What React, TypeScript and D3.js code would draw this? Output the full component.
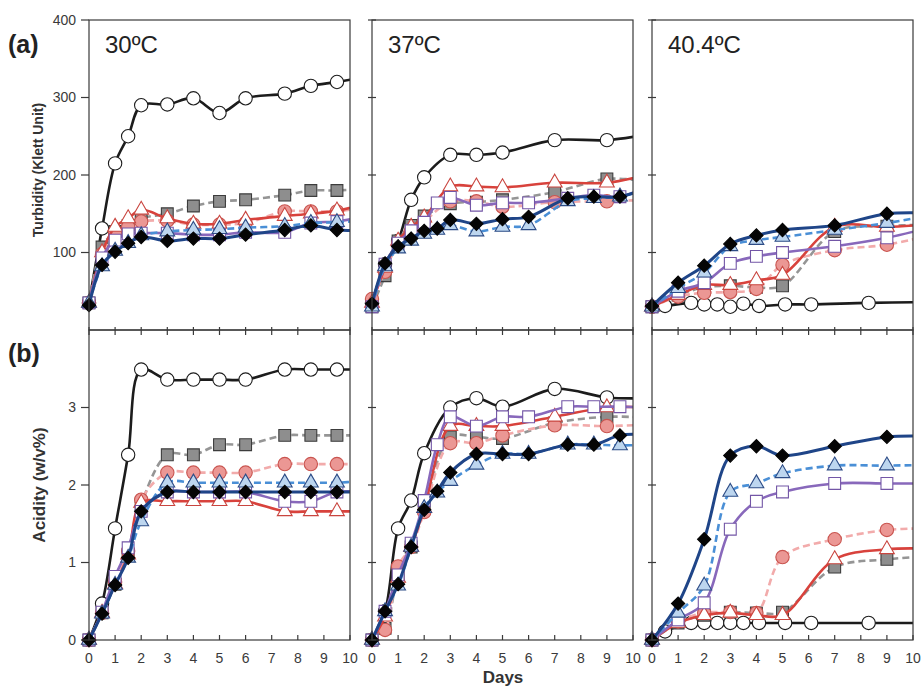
import React from "react";
import * as d3 from "d3";

// sampling days (last point sits just past the frame so lines run to the edge)
const days30 = [0, 0.5, 1, 1.5, 2, 3, 4, 5, 6, 7.5, 8.5, 9.5, 10.5];
const days37a = [0, 0.5, 1, 1.5, 2, 3, 4, 5, 7, 9, 10.5];
const days37b = [0, 0.5, 1, 1.5, 2, 2.5, 3, 4, 5, 6, 7.5, 8.5, 9.5, 10.5];
const days40 = [0, 1, 2, 3, 4, 5, 7, 9, 10.5];
const days40Ctrl = [0, 0.5, 1.5, 2, 2.5, 3, 3.5, 4.1, 5.1, 6.1, 8.3, 10.5];

// turbidity, 30C
const turb30Ctrl = [35, 131, 215, 250, 290, 291, 299, 280, 299, 305, 315, 320, 326];
const turb30Gray = [35, 107, 127, 135, 144, 150, 160, 166, 168, 174, 180, 180, 182];
const turb30Pink = [35, 98, 125, 133, 140, 141, 136, 136, 138, 153, 153, 153, 158];
const turb30Red = [35, 100, 133, 144, 155, 144, 137, 137, 142, 147, 150, 154, 162];
const turb30Purple = [35, 93, 116, 124, 125, 125, 123, 123, 126, 126, 138, 140, 146];
const turb30Blue = [35, 82, 102, 112, 122, 127, 129, 130, 132, 134, 138, 139, 141];
const turb30Navy = [32, 84, 101, 112, 120, 115, 118, 118, 123, 129, 135, 129, 129];

// turbidity, 37C
const turb37Ctrl = [35, 85, 115, 168, 197, 226, 226, 229, 245, 245, 252];
const turb37Gray = [30, 70, 115, 135, 147, 163, 165, 168, 178, 195, 192];
const turb37Pink = [40, 75, 112, 128, 140, 166, 166, 159, 165, 166, 168];
const turb37Red = [35, 80, 115, 133, 145, 185, 185, 184, 190, 190, 200];
const turb37Purple = [30, 85, 112, 128, 139, 164, 171, 161, 164, 164, 170, 174, 172, 185];
const turb37Blue = [30, 82, 105, 115, 124, 129, 135, 127, 133, 135, 166, 170, 172, 182];
const turb37Navy = [34, 86, 108, 118, 128, 131, 142, 137, 143, 146, 170, 172, 172, 183];

// turbidity, 40.4C
const turb40Ctrl = [30, 31, 35, 33, 33, 30, 34, 31, 33, 33, 35, 36];
const turb40Gray = [30, 45, 55, 57, 55, 57, 127, 134, 136];
const turb40Pink = [30, 43, 48, 49, 53, 84, 103, 110, 121];
const turb40Red = [30, 45, 58, 58, 64, 71, 133, 133, 136];
const turb40Purple = [30, 50, 61, 86, 95, 100, 108, 119, 131];
const turb40Blue = [30, 54, 74, 108, 116, 120, 129, 138, 147];
const turb40Navy = [31, 61, 83, 111, 122, 129, 135, 150, 151];

// acidity, 30C
const acid30Ctrl = [0, 0.47, 1.44, 2.39, 3.49, 3.36, 3.36, 3.36, 3.36, 3.49, 3.49, 3.49, 3.49];
const acid30Gray = [0, 0.35, 0.72, 1.1, 1.75, 2.39, 2.39, 2.52, 2.52, 2.64, 2.64, 2.64, 2.64];
const acid30Pink = [0, 0.35, 0.75, 1.15, 1.81, 2.16, 2.16, 2.16, 2.16, 2.27, 2.27, 2.27, 2.27];
const acid30Red = [0, 0.35, 0.72, 1.1, 1.77, 1.79, 1.79, 1.79, 1.79, 1.66, 1.66, 1.66, 1.66];
const acid30Purple = [0, 0.36, 0.82, 1.19, 1.66, 1.91, 1.91, 1.91, 1.91, 1.79, 1.79, 1.91, 1.91];
const acid30Blue = [0, 0.34, 0.71, 1.06, 1.53, 2.03, 2.03, 2.03, 2.03, 2.03, 2.03, 2.03, 2.05];
const acid30Navy = [0, 0.34, 0.71, 1.06, 1.66, 1.91, 1.91, 1.91, 1.91, 1.91, 1.91, 1.91, 1.91];

// acidity, 37C
const acid37Ctrl = [0, 0.37, 1.44, 1.8, 2.41, 3.0, 3.12, 3.01, 3.24, 3.13, 3.12];
const acid37Gray = [0, 0.15, 0.84, 1.2, 1.7, 2.62, 2.62, 2.6, 2.8, 2.88, 2.87];
const acid37Pink = [0, 0.13, 0.95, 1.2, 1.65, 2.54, 2.54, 2.64, 2.77, 2.76, 2.78];
const acid37Red = [0, 0.3, 0.8, 1.2, 1.7, 2.76, 2.76, 2.76, 2.88, 3.0, 3.0];
const acid37Purple = [0, 0.37, 0.84, 1.25, 1.8, 2.52, 2.88, 2.76, 2.88, 2.88, 3.01, 3.01, 3.01, 3.0];
const acid37Blue = [0, 0.37, 0.7, 1.2, 1.7, 1.9, 2.05, 2.26, 2.4, 2.4, 2.52, 2.52, 2.51, 2.52];
const acid37Navy = [0, 0.37, 0.72, 1.2, 1.68, 1.92, 2.16, 2.4, 2.4, 2.4, 2.52, 2.52, 2.64, 2.65];

// acidity, 40.4C
const acid40Ctrl = [0, 0.11, 0.22, 0.22, 0.22, 0.22, 0.22, 0.22, 0.22, 0.22, 0.22, 0.22];
const acid40Gray = [0, 0.22, 0.32, 0.36, 0.35, 0.36, 0.94, 1.04, 1.08];
const acid40Pink = [0, 0.24, 0.35, 0.36, 0.35, 1.07, 1.3, 1.42, 1.44];
const acid40Red = [0, 0.22, 0.32, 0.35, 0.32, 0.32, 1.04, 1.17, 1.18];
const acid40Purple = [0, 0.26, 0.48, 1.43, 1.79, 1.91, 2.02, 2.02, 2.02];
const acid40Blue = [0, 0.35, 0.7, 1.91, 2.02, 2.15, 2.25, 2.25, 2.26];
const acid40Navy = [0, 0.47, 1.3, 2.38, 2.5, 2.38, 2.5, 2.62, 2.63];

const temps = ["30ºC", "37ºC", "40.4ºC"];
const xTicks = [0, 1, 2, 3, 4, 5, 6, 7, 8, 9, 10];
const turbTicks = [100, 200, 300, 400];
const acidTicks = [0, 1, 2, 3];

type Style = { stroke: string; dash?: string; width: number; shape: string; fill: string; mstroke: string };
const styles: Record<string, Style> = {
  ctrl: { stroke: "#1c1c1c", width: 2.6, shape: "circle", fill: "#fff", mstroke: "#1c1c1c" },
  gray: { stroke: "#959595", dash: "7,4", width: 2.6, shape: "square", fill: "#8e8e8e", mstroke: "#3c3c3c" },
  pink: { stroke: "#f2abab", dash: "7,4", width: 2.6, shape: "circle", fill: "#eb9794", mstroke: "#c9544f" },
  red: { stroke: "#d8423c", width: 2.6, shape: "triangle", fill: "#fff", mstroke: "#c9453f" },
  purple: { stroke: "#8868bb", width: 2.6, shape: "square", fill: "#fff", mstroke: "#7356a6" },
  blue: { stroke: "#4a8fd6", dash: "7,4", width: 2.6, shape: "triangle", fill: "#bdd6ef", mstroke: "#2d4c86" },
  navy: { stroke: "#1f4588", width: 3, shape: "diamond", fill: "#050505", mstroke: "#050505" },
};
const order = ["ctrl", "gray", "pink", "red", "purple", "blue", "navy"];

const mk = (days: number[], vals: number[]) => days.map((d, i) => [d, vals[i]] as [number, number]);

const turbPanels = [
  { ctrl: mk(days30, turb30Ctrl), gray: mk(days30, turb30Gray), pink: mk(days30, turb30Pink), red: mk(days30, turb30Red), purple: mk(days30, turb30Purple), blue: mk(days30, turb30Blue), navy: mk(days30, turb30Navy) },
  { ctrl: mk(days37a, turb37Ctrl), gray: mk(days37a, turb37Gray), pink: mk(days37a, turb37Pink), red: mk(days37a, turb37Red), purple: mk(days37b, turb37Purple), blue: mk(days37b, turb37Blue), navy: mk(days37b, turb37Navy) },
  { ctrl: mk(days40Ctrl, turb40Ctrl), gray: mk(days40, turb40Gray), pink: mk(days40, turb40Pink), red: mk(days40, turb40Red), purple: mk(days40, turb40Purple), blue: mk(days40, turb40Blue), navy: mk(days40, turb40Navy) },
];
const acidPanels = [
  { ctrl: mk(days30, acid30Ctrl), gray: mk(days30, acid30Gray), pink: mk(days30, acid30Pink), red: mk(days30, acid30Red), purple: mk(days30, acid30Purple), blue: mk(days30, acid30Blue), navy: mk(days30, acid30Navy) },
  { ctrl: mk(days37a, acid37Ctrl), gray: mk(days37a, acid37Gray), pink: mk(days37a, acid37Pink), red: mk(days37a, acid37Red), purple: mk(days37b, acid37Purple), blue: mk(days37b, acid37Blue), navy: mk(days37b, acid37Navy) },
  { ctrl: mk(days40Ctrl, acid40Ctrl), gray: mk(days40, acid40Gray), pink: mk(days40, acid40Pink), red: mk(days40, acid40Red), purple: mk(days40, acid40Purple), blue: mk(days40, acid40Blue), navy: mk(days40, acid40Navy) },
];

const panelLeft = [89, 372, 652];
const panelW = 261;
const rowTop = [20, 330];
const panelH = 310;
const font = "'Liberation Sans', Arial, sans-serif";
const axisColor = "#3a3a3a";

const x = d3.scaleLinear().domain([0, 10]).range([0, panelW]);
const yTurb = d3.scaleLinear().domain([0, 400]).range([panelH, 0]);
const yAcid = d3.scaleLinear().domain([0, 4]).range([panelH, 0]);

const symbolPath = (shape: string) => {
  if (shape === "circle") return d3.symbol(d3.symbolCircle, 140)()!;
  if (shape === "square") return d3.symbol(d3.symbolSquare, 140)()!;
  if (shape === "triangle") return d3.symbol(d3.symbolTriangle, 95)()!;
  return d3.symbol(d3.symbolSquare, 88)()!;
};

const Panel = ({ col, row, data, y, ticks }: any) => {
  const left = panelLeft[col];
  const top = rowTop[row];
  const line = d3
    .line<[number, number]>()
    .x((d) => x(d[0]))
    .y((d) => y(d[1]))
    .curve(d3.curveCatmullRom.alpha(0.5));
  const clipId = `clip-${row}-${col}`;
  const first = col === 0;
  return (
    <g transform={`translate(${left},${top})`}>
      <defs>
        <clipPath id={clipId}>
          <rect x={0} y={-2} width={panelW} height={panelH + 4} />
        </clipPath>
      </defs>
      {order.map((k) => {
        const s = styles[k];
        const pts: [number, number][] = data[k];
        return (
          <g key={k}>
            <path
              d={line(pts) || ""}
              fill="none"
              stroke={s.stroke}
              strokeWidth={s.width}
              strokeDasharray={s.dash}
              clipPath={`url(#${clipId})`}
            />
            {pts
              .filter((p) => p[0] <= 10)
              .map((p, i) => (
                <path
                  key={i}
                  d={symbolPath(s.shape)}
                  transform={`translate(${x(p[0])},${y(p[1])})${s.shape === "diamond" ? " rotate(45)" : ""}`}
                  fill={s.fill}
                  stroke={s.mstroke}
                  strokeWidth={1.1}
                />
              ))}
          </g>
        );
      })}
      <rect x={0} y={0} width={panelW} height={panelH} fill="none" stroke={axisColor} strokeWidth={1.2} />
      {/* y ticks */}
      {ticks.map((t: number) => (
        <line
          key={t}
          x1={first ? -8 : -4}
          x2={first ? 0 : 4}
          y1={y(t)}
          y2={y(t)}
          stroke={axisColor}
          strokeWidth={1.2}
        />
      ))}
      {first &&
        ticks.map((t: number) => (
          <text
            key={t}
            x={-13}
            y={y(t)}
            dy="0.35em"
            textAnchor="end"
            fontSize={14}
            fontFamily={font}
            fill="#3a3a3a"
          >
            {t}
          </text>
        ))}
      {/* x ticks */}
      {xTicks.map((t) => (
        <line
          key={t}
          x1={x(t)}
          x2={x(t)}
          y1={row === 0 ? panelH - 3 : panelH - 5}
          y2={row === 0 ? panelH + 5 : panelH}
          stroke={axisColor}
          strokeWidth={1.2}
        />
      ))}
      {row === 1 &&
        xTicks.map((t) => (
          <text
            key={t}
            x={x(t)}
            y={panelH + 23}
            textAnchor="middle"
            fontSize={14}
            fontFamily={font}
            fill="#3a3a3a"
          >
            {t}
          </text>
        ))}
      {row === 0 && (
        <text x={16} y={33} fontSize={24} fontFamily={font} fill="#222">
          {temps[col]}
        </text>
      )}
    </g>
  );
};

export default function App() {
  return (
    <svg
      width={922}
      height={690}
      style={{ position: "absolute", left: 0, top: 0, background: "#fff" }}
    >
      <rect width={922} height={690} fill="#fff" />
      {turbPanels.map((d, i) => (
        <Panel key={"t" + i} col={i} row={0} data={d} y={yTurb} ticks={turbTicks} />
      ))}
      {acidPanels.map((d, i) => (
        <Panel key={"a" + i} col={i} row={1} data={d} y={yAcid} ticks={acidTicks} />
      ))}
      <text x={8} y={53} fontSize={25} fontWeight="bold" fontFamily={font} fill="#222">
        (a)
      </text>
      <text x={8} y={362} fontSize={25} fontWeight="bold" fontFamily={font} fill="#222">
        (b)
      </text>
      <text
        transform="translate(43,170) rotate(-90)"
        textAnchor="middle"
        fontSize={14}
        fontWeight="bold"
        fontFamily={font}
        fill="#333"
      >
        Turbidity (Klett Unit)
      </text>
      <text
        transform="translate(45,485) rotate(-90)"
        textAnchor="middle"
        fontSize={17}
        fontWeight="bold"
        fontFamily={font}
        fill="#333"
      >
        Acidity (w/v%)
      </text>
      <text x={503} y={683} textAnchor="middle" fontSize={17} fontWeight="bold" fontFamily={font} fill="#333">
        Days
      </text>
    </svg>
  );
}
